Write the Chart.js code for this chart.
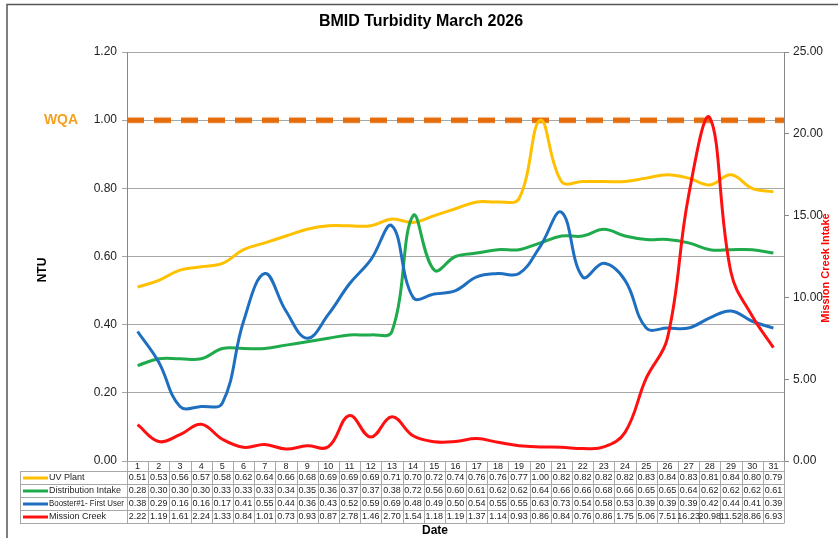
<!DOCTYPE html>
<html>
<head>
<meta charset="utf-8">
<script src="https://cdn.jsdelivr.net/npm/chart.js@4.4.0/dist/chart.umd.min.js"></script>
<style>
html,body{margin:0;padding:0;background:#fff;}
#wrap{position:relative;width:838px;height:538px;}
</style>
</head>
<body>
<div id="wrap"><canvas id="c" width="838" height="538"></canvas></div>
<script>
const days = ["1","2","3","4","5","6","7","8","9","10","11","12","13","14","15","16","17","18","19","20","21","22","23","24","25","26","27","28","29","30","31"];
const uvPlant = [0.51,0.53,0.56,0.57,0.58,0.62,0.64,0.66,0.68,0.69,0.69,0.69,0.71,0.70,0.72,0.74,0.76,0.76,0.77,1.00,0.82,0.82,0.82,0.82,0.83,0.84,0.83,0.81,0.84,0.80,0.79];
const distIntake = [0.28,0.30,0.30,0.30,0.33,0.33,0.33,0.34,0.35,0.36,0.37,0.37,0.38,0.72,0.56,0.60,0.61,0.62,0.62,0.64,0.66,0.66,0.68,0.66,0.65,0.65,0.64,0.62,0.62,0.62,0.61];
const booster = [0.38,0.29,0.16,0.16,0.17,0.41,0.55,0.44,0.36,0.43,0.52,0.59,0.69,0.48,0.49,0.50,0.54,0.55,0.55,0.63,0.73,0.54,0.58,0.53,0.39,0.39,0.39,0.42,0.44,0.41,0.39];
const missionCreek = [2.22,1.19,1.61,2.24,1.33,0.84,1.01,0.73,0.93,0.87,2.78,1.46,2.70,1.54,1.18,1.19,1.37,1.14,0.93,0.86,0.84,0.76,0.86,1.75,5.06,7.51,16.23,20.98,11.52,8.86,6.93];
const wqaLevel = 1.00;
const seriesNames = ["UV Plant","Distribution Intake","Booster#1- First User","Mission Creek"];
const seriesColors = ["#FFC000","#1FAA4B","#1F6FC0","#FF1010"];

const FONT = "'Liberation Sans', Arial, sans-serif";

const tablePlugin = {
  id: 'extras',
  beforeDatasetsDraw(chart) {
    const ctx = chart.ctx, y = chart.scales.y;
    const a = chart.chartArea;
    const yy = y.getPixelForValue(wqaLevel);
    ctx.save();
    ctx.strokeStyle = 'rgba(240,150,80,0.35)';
    ctx.lineWidth = 7;
    ctx.setLineDash([17,10]);
    ctx.beginPath(); ctx.moveTo(a.left, yy); ctx.lineTo(a.right, yy); ctx.stroke();
    ctx.strokeStyle = '#E46C0A';
    ctx.lineWidth = 5;
    ctx.beginPath(); ctx.moveTo(a.left, yy); ctx.lineTo(a.right, yy); ctx.stroke();
    ctx.restore();
  },
  afterDraw(chart) {
    const ctx = chart.ctx, x = chart.scales.x, y = chart.scales.y;
    const a = chart.chartArea;
    ctx.save();
    ctx.strokeStyle = '#555';
    ctx.lineWidth = 1.5;
    ctx.beginPath();
    ctx.moveTo(7, 540); ctx.lineTo(7, 4.5); ctx.lineTo(840, 4.5);
    ctx.stroke();
    ctx.fillStyle = '#000';
    ctx.font = 'bold 16px ' + FONT;
    ctx.textAlign = 'center'; ctx.textBaseline = 'middle';
    ctx.fillText('BMID Turbidity March 2026', 421, 22);
    ctx.fillStyle = '#F5A020';
    ctx.font = 'bold 14px ' + FONT;
    ctx.fillText('WQA', 61, y.getPixelForValue(wqaLevel));
    ctx.fillStyle = '#000';
    ctx.font = 'bold 12px ' + FONT;
    ctx.save(); ctx.translate(43, 270); ctx.rotate(-Math.PI/2); ctx.fillText('NTU', 0, 0); ctx.restore();
    ctx.fillStyle = '#FF0000';
    ctx.font = 'bold 11px ' + FONT;
    ctx.save(); ctx.translate(826, 268); ctx.rotate(-Math.PI/2); ctx.fillText('Mission Creek Intake', 0, 0); ctx.restore();
    ctx.fillStyle = '#000';
    ctx.font = 'bold 12px ' + FONT;
    ctx.fillText('Date', 435, 531);

    const rowsData = [uvPlant, distIntake, booster, missionCreek];
    const decimals = 2;
    const colW = (a.right - a.left) / days.length;
    const top = a.bottom;
    const headH = 10, rowH = 13;
    const leftX = 20;
    ctx.strokeStyle = '#a8a8a8';
    ctx.lineWidth = 1;
    ctx.beginPath();
    ctx.moveTo(a.left, top + 0.5); ctx.lineTo(a.right, top + 0.5);
    for (let r = 0; r <= rowsData.length; r++) {
      const ly = Math.round(top + headH + r * rowH) + 0.5;
      ctx.moveTo(leftX, ly); ctx.lineTo(a.right, ly);
    }
    const bottomY = Math.round(top + headH + rowsData.length * rowH) + 0.5;
    ctx.moveTo(leftX + 0.5, Math.round(top + headH) + 0.5); ctx.lineTo(leftX + 0.5, bottomY);
    for (let i = 0; i <= days.length; i++) {
      const lx = Math.round(a.left + i * colW) + 0.5;
      ctx.moveTo(lx, top); ctx.lineTo(lx, bottomY);
    }
    ctx.stroke();
    ctx.font = '9px ' + FONT;
    ctx.fillStyle = '#222';
    ctx.textAlign = 'center'; ctx.textBaseline = 'middle';
    for (let i = 0; i < days.length; i++) {
      const cx = x.getPixelForValue(i);
      ctx.fillText(days[i], cx, top + headH / 2 + 0.5);
      for (let r = 0; r < rowsData.length; r++) {
        ctx.fillText(rowsData[r][i].toFixed(decimals), cx, top + headH + r * rowH + rowH / 2 + 0.5);
      }
    }
    ctx.textAlign = 'left';
    ctx.font = '9px ' + FONT;
    for (let r = 0; r < seriesNames.length; r++) {
      const cy = top + headH + r * rowH + rowH / 2 + 0.5;
      ctx.strokeStyle = seriesColors[r];
      ctx.lineWidth = 3;
      ctx.beginPath(); ctx.moveTo(23, cy); ctx.lineTo(48, cy); ctx.stroke();
      ctx.fillStyle = '#222';
      ctx.fillText(seriesNames[r], 49, cy, a.left - 52);
    }
    ctx.restore();
  }
};

const mk = (label, data, color, axis) => ({
  label, data, borderColor: color, backgroundColor: color, yAxisID: axis,
  borderWidth: 3, pointRadius: 0, tension: 0.4, fill: false
});

new Chart(document.getElementById('c'), {
  type: 'line',
  data: {
    labels: days,
    datasets: [
      mk(seriesNames[3], missionCreek, seriesColors[3], 'y2'),
      mk(seriesNames[2], booster, seriesColors[2], 'y'),
      mk(seriesNames[1], distIntake, seriesColors[1], 'y'),
      mk(seriesNames[0], uvPlant, seriesColors[0], 'y')
    ]
  },
  options: {
    responsive: false,
    animation: false,
    devicePixelRatio: 1,
    layout: { padding: { left: 0, right: 0, top: 52, bottom: 77 } },
    plugins: { legend: { display: false }, title: { display: false }, tooltip: { enabled: false } },
    scales: {
      x: { display: false, offset: true },
      y: {
        position: 'left', min: 0, max: 1.2,
        afterFit: s => { s.width = 127; },
        ticks: { stepSize: 0.2, padding: 5, color: '#222', font: { family: FONT, size: 12 },
          callback: v => Number(v).toFixed(2) },
        grid: { color: '#A8A8A8', tickLength: 5, drawTicks: true },
        border: { color: '#888', width: 1 }
      },
      y2: {
        position: 'right', min: 0, max: 25,
        afterFit: s => { s.width = 54; },
        ticks: { stepSize: 5, padding: 4, color: '#222', font: { family: FONT, size: 12 },
          callback: v => Number(v).toFixed(2) },
        grid: { drawOnChartArea: false, tickLength: 5, color: '#888' },
        border: { color: '#888', width: 1 }
      }
    }
  },
  plugins: [tablePlugin]
});
</script>
</body>
</html>
